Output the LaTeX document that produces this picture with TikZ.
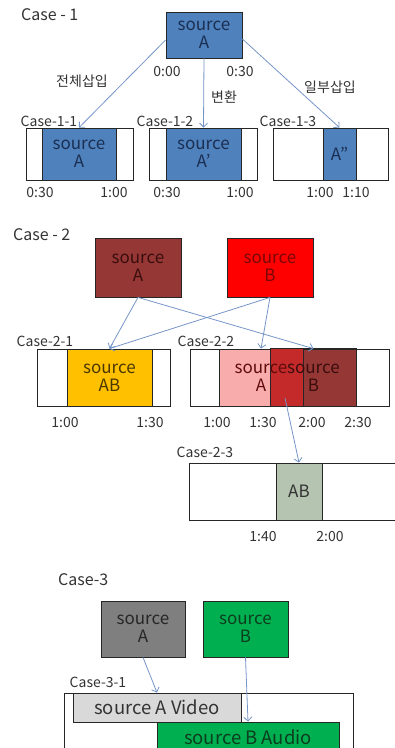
\documentclass[tikz,border=0pt]{standalone}
\usepackage{fontspec}
\setmainfont{Noto Sans CJK KR}
\usetikzlibrary{arrows.meta,positioning}

\definecolor{linkblue}{HTML}{7595C8}
\definecolor{srcblue}{HTML}{4F81BD}
\definecolor{navytext}{HTML}{1B2F52}
\definecolor{darkred}{HTML}{953735}
\definecolor{darkredtext}{HTML}{3A0E0E}
\definecolor{brightred}{HTML}{FF0000}
\definecolor{redtext}{HTML}{7A0606}
\definecolor{amber}{HTML}{FFC000}
\definecolor{ambertext}{HTML}{4A3800}
\definecolor{rosepink}{HTML}{F8ACAC}
\definecolor{mixred}{HTML}{C42A2A}
\definecolor{sage}{HTML}{B4C4B0}
\definecolor{midgray}{HTML}{7F7F7F}
\definecolor{lightgray}{HTML}{D9D9D9}
\definecolor{leafgreen}{HTML}{00B050}
\definecolor{greentext}{HTML}{0B3D1E}

\newcommand\srcfont{\fontsize{17}{18}\selectfont}
\newcommand\barfont{\fontsize{18.5}{20}\selectfont}
\newcommand\lblfont{\fontsize{14}{16}\selectfont}
\newcommand\headfont{\fontsize{16}{18}\selectfont}

\tikzset{
	srcbox/.style = {draw=black!85, line width=0.8pt, inner sep=0pt, align=center, font=\srcfont},
	track/.style  = {draw=black!85, line width=0.8pt, fill=white, inner sep=0pt, minimum height=#1},
	head/.style   = {font=\headfont, text=black!80, anchor=west, inner sep=0pt},
	lbl/.style    = {font=\lblfont, text=black!80},
	tm/.style     = {font=\lblfont, text=black!80},
	link/.style   = {-{Straight Barb[length=4pt,width=8pt]}, draw=linkblue, line width=0.8pt},
}

\begin{document}
\begin{tikzpicture}[x=1pt, y=-1pt]
	\useasboundingbox (0,0) rectangle (395,748);
	\clip (0,0) rectangle (395,748);

	% Case 1
	\node	[head]	(case1)	at (21,15)	{Case - 1};
	\node	[srcbox, fill=srcblue, text=navytext, minimum width=76pt, minimum height=46pt]
		(srcA1)	at (204,35)	{source\\A};
	\node	[tm]	(t1a)	at (167,72)	{0:00};
	\node	[tm]	(t1b)	at (240,72)	{0:30};
	\node	[lbl]	(full)	at (82,81)	{전체삽입};
	\node	[lbl]	(conv)	at (224,97)	{변환};
	\node	[lbl]	(part)	at (330,87)	{일부삽입};

	\node	[lbl]	(lab11)	at (49,121)	{Case-1-1};
	\node	[track=52pt, minimum width=107pt]	(tr11)	at (79.5,154)	{};
	\node	[srcbox, fill=srcblue, text=navytext, minimum width=74pt, minimum height=52pt]
		(in11)	at (79,154)	{source\\A};
	\node	[tm]	(t11a)	at (40,193)	{0:30};
	\node	[tm]	(t11b)	at (114,193)	{1:00};

	\node	[lbl]	(lab12)	at (165,121)	{Case-1-2};
	\node	[track=52pt, minimum width=108pt]	(tr12)	at (203,154)	{};
	\node	[srcbox, fill=srcblue, text=navytext, minimum width=75pt, minimum height=52pt]
		(in12)	at (203.5,154)	{source\\A'};
	\node	[tm]	(t12a)	at (167,193)	{0:30};
	\node	[tm]	(t12b)	at (240,193)	{1:00};

	\node	[lbl]	(lab13)	at (288,121)	{Case-1-3};
	\node	[track=52pt, minimum width=115pt]	(tr13)	at (330.5,154)	{};
	\node	[srcbox, fill=srcblue, text=navytext, minimum width=33pt, minimum height=52pt]
		(in13)	at (339.5,154)	{A''};
	\node	[tm]	(t13a)	at (320,193)	{1:00};
	\node	[tm]	(t13b)	at (356,193)	{1:10};

	% Case 2
	\node	[head]	(case2)	at (13,235)	{Case - 2};
	\node	[srcbox, fill=darkred, text=darkredtext, minimum width=86pt, minimum height=59pt]
		(srcA2)	at (138,267.5)	{source\\A};
	\node	[srcbox, fill=brightred, text=redtext, minimum width=86pt, minimum height=59pt]
		(srcB2)	at (270,267.5)	{source\\B};

	\node	[lbl]	(lab21)	at (45,341)	{Case-2-1};
	\node	[track=57pt, minimum width=133pt]	(tr21)	at (103.5,377.5)	{};
	\node	[srcbox, fill=amber, text=ambertext, minimum width=85pt, minimum height=57pt]
		(in21)	at (109.5,377.5)	{source\\AB};
	\node	[tm]	(t21a)	at (65,423)	{1:00};
	\node	[tm]	(t21b)	at (150,423)	{1:30};

	\node	[lbl]	(lab22)	at (206,341)	{Case-2-2};
	\node	[track=57pt, minimum width=199pt]	(tr22)	at (289.5,377.5)	{};
	\node	[srcbox, fill=rosepink, minimum width=84pt, minimum height=57pt]
		(srcA22)	at (261,377.5)	{};
	\node	[srcbox, fill=darkred, minimum width=85pt, minimum height=57pt]
		(srcB22)	at (313.5,377.5)	{};
	\fill	[mixred]	(srcB22.north west) rectangle (srcA22.south east);
	\draw	[black!85, line width=0.8pt]	(srcB22.north west) rectangle (srcB22.south east)
		(srcA22.north east) -- (srcA22.south east);
	\node	[font=\srcfont, align=center, text=darkredtext!80!red]	at (srcA22)	{source\\A};
	\node	[font=\srcfont, align=center, text=darkredtext]	at (srcB22)	{source\\B};
	\coordinate	(mix)	at (285,398);
	\node	[tm]	(t22a)	at (217,423)	{1:00};
	\node	[tm]	(t22b)	at (263,423)	{1:30};
	\node	[tm]	(t22c)	at (312,423)	{2:00};
	\node	[tm]	(t22d)	at (358,423)	{2:30};

	\node	[lbl]	(lab23)	at (205,452)	{Case-2-3};
	\node	[track=57pt, minimum width=210pt]	(tr23)	at (294,491.5)	{};
	\node	[srcbox, fill=sage, text=black!80, minimum width=46pt, minimum height=57pt]
		(in23)	at (299,491.5)	{AB};
	\node	[tm]	(t23a)	at (263,537)	{1:40};
	\node	[tm]	(t23b)	at (330,537)	{2:00};

	% Case 3
	\node	[head]	(case3)	at (58,580)	{Case-3};
	\node	[srcbox, fill=midgray, text=black!85, minimum width=84pt, minimum height=56pt]
		(srcA3)	at (143,629)	{source\\A};
	\node	[srcbox, fill=leafgreen, text=greentext, minimum width=85pt, minimum height=56pt]
		(srcB3)	at (245.5,629)	{source\\B};

	\node	[lbl]	(lab31)	at (98,682)	{Case-3-1};
	\node	[track=80pt, minimum width=289pt, anchor=north west]	(tr31)	at (64,693)	{};
	\node	[srcbox, font=\barfont, fill=lightgray, text=black!80, minimum width=168pt, minimum height=29pt]
		(video)	at (157,707.5)	{source A Video};
	\node	[srcbox, font=\barfont, fill=leafgreen, text=greentext, minimum width=182pt, minimum height=30pt]
		(audio)	at (248,737)	{source B Audio};

	\path [every edge/.style={link}]
	([yshift=-5pt]srcA1.west)	edge	(in11.north)
	(srcA1.south)	edge	(in12.north)
	([yshift=-4pt]srcA1.east)	edge	(in13.north)
	(srcA2.south)	edge	(in21.north)
		edge	(srcB22.north)
	(srcB2.south)	edge	(in21.north)
		edge	(srcA22.north)
	(mix)	edge	(in23.north)
	(srcA3.south)	edge	(video.north)
	(srcB3.south)	edge	(audio.north)
	;

\end{tikzpicture}
\end{document}
